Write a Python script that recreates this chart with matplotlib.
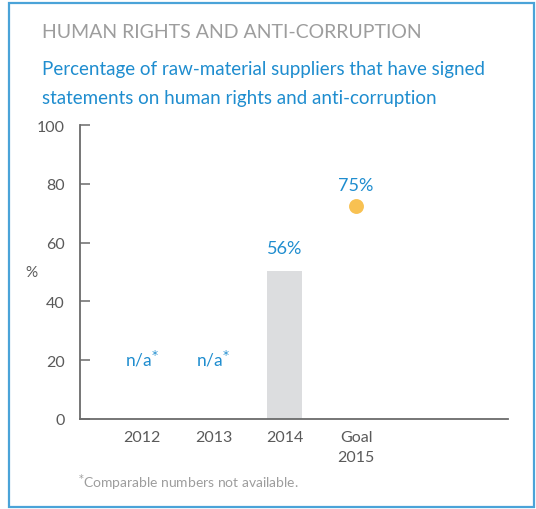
import matplotlib
matplotlib.use("Agg")
import matplotlib.pyplot as plt
from matplotlib.patches import Rectangle

categories = ["2012", "2013", "2014", "Goal\n2015"]
bar_values = [None, None, 50.5, None]
goal_value = 72.5
labels = ["n/a", "n/a", "56%", "75%"]
label_values = [20.5, 20.5, 58, 79.5]
yticks = [0, 20, 40, 60, 80, 100]

title = "HUMAN RIGHTS AND ANTI-CORRUPTION"
subtitle = "Percentage of raw-material suppliers that have signed\nstatements on human rights and anti-corruption"
footnote = "Comparable numbers not available."

BLUE = "#1f8dcf"
GRAY_T = "#9d9d9d"
DARK = "#5a5a5a"
AXIS = "#6b6b6b"
BAR = "#dcdddf"
DOT = "#f8c152"
BORDER = "#4aa3d8"

plt.rcParams['font.family'] = ['Lato', 'DejaVu Sans']

W, H = 536, 510
fig = plt.figure(figsize=(W / 100, H / 100), dpi=100)
fig.patch.set_facecolor("white")

# border
fig.add_artist(Rectangle((9 / W, 2 / H), (534 - 9) / W, (506 - 2) / H,
                         transform=fig.transFigure, fill=False,
                         edgecolor=BORDER, linewidth=1.6))

fig.text(42 / W, 1 - 33 / H, title, color=GRAY_T, fontsize=14.0,
         va="center", ha="left", fontweight="normal")
fig.text(42 / W, 1 - 84 / H, subtitle, color=BLUE, fontsize=13.5,
         va="center", ha="left", linespacing=1.8)

ax = fig.add_axes([80 / W, 1 - 420 / H, (508 - 80) / W, (420 - 126) / H])
x = list(range(len(categories)))
for xi, v in zip(x, bar_values):
    if v is not None:
        ax.bar(xi, v, width=0.49, color=BAR, zorder=1)
ax.scatter([3], [goal_value], s=115, color=DOT, zorder=3, linewidths=0)

for xi, (lab, lv) in enumerate(zip(labels, label_values)):
    if lab == "n/a":
        ax.text(xi, lv, lab + r"$^{*}$", color=BLUE, fontsize=12.5,
                ha="center", va="center")
    else:
        ax.text(xi, lv, lab, color=BLUE, fontsize=13,
                ha="center", va="center")

ax.set_xlim(-0.87, 5.13)
ax.set_ylim(0, 100)
ax.set_yticks(yticks)
ax.set_yticklabels([str(t) for t in yticks])
ax.set_xticks(x)
ax.set_xticklabels(categories, linespacing=1.5)
ax.tick_params(axis="y", direction="in", length=7.5, width=1.1, color=AXIS,
               labelsize=11.5, labelcolor=DARK, pad=11)
ax.tick_params(axis="x", length=0, labelsize=11.5, labelcolor=DARK, pad=8)
for s in ["top", "right"]:
    ax.spines[s].set_visible(False)
for s in ["left", "bottom"]:
    ax.spines[s].set_color(AXIS)
    ax.spines[s].set_linewidth(1.3)
ax.set_facecolor("none")

fig.text(31 / W, 1 - 273 / H, "%", color=DARK, fontsize=11,
         ha="center", va="center")
fig.text(78 / W, 1 - 483 / H, r"$^{*}$" + footnote, color=GRAY_T,
         fontsize=10, ha="left", va="center")

fig.savefig("out.png", dpi=100, facecolor="white")
